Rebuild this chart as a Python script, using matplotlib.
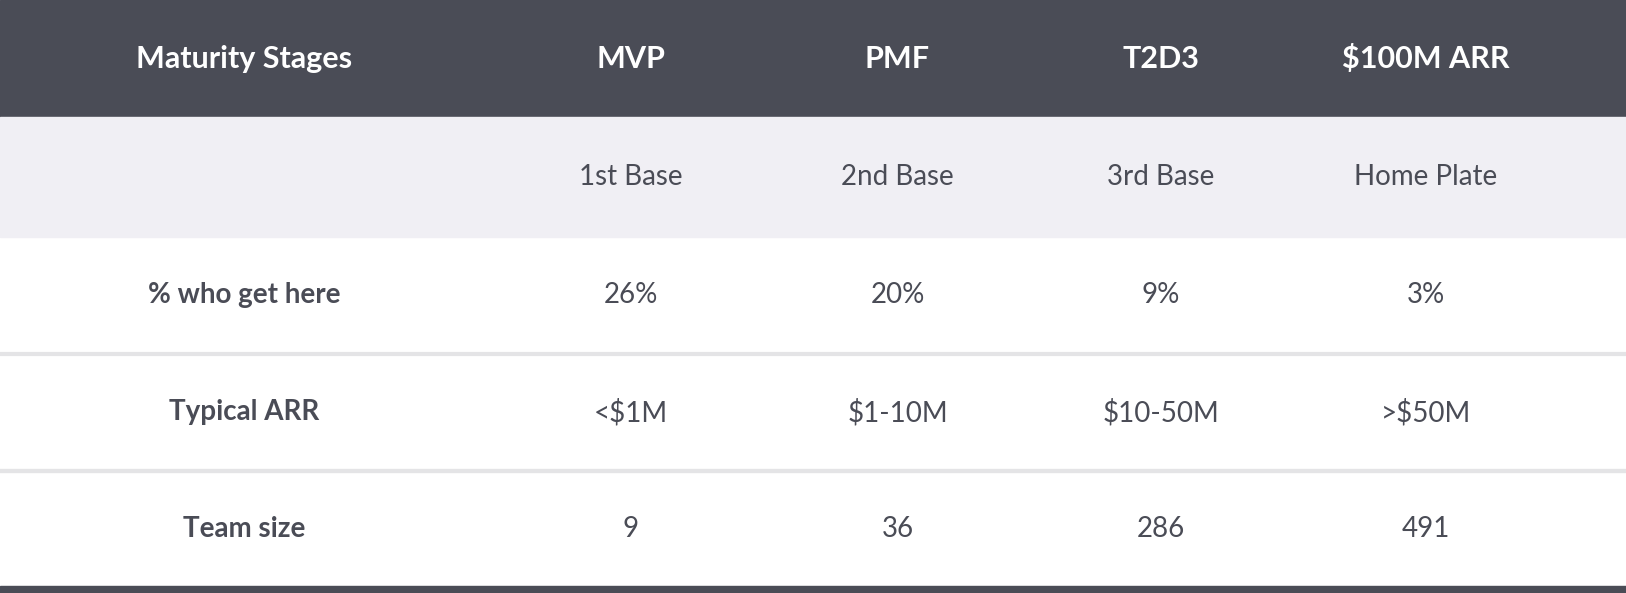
import matplotlib.pyplot as plt
from matplotlib.patches import Rectangle

header = ["Maturity Stages", "MVP", "PMF", "T2D3", "$100M ARR"]
bases = ["", "1st Base", "2nd Base", "3rd Base", "Home Plate"]
row_labels = ["% who get here", "Typical ARR", "Team size"]
pct = ["26%", "20%", "9%", "3%"]
arr = ["<$1M", "$1-10M", "$10-50M", ">$50M"]
team = ["9", "36", "286", "491"]

col_x = [0.150, 0.388, 0.552, 0.714, 0.877]
edges = [0.0, 0.198, 0.399, 0.596, 0.795, 0.988, 1.0]

DARK = "#4a4c56"
TXT = "#4a4c56"

fig = plt.figure(figsize=(16.26, 5.93), dpi=100)
ax = fig.add_axes([0, 0, 1, 1])
ax.set_xlim(0, 1)
ax.set_ylim(1, 0)
ax.axis("off")

ax.add_patch(Rectangle((0, edges[0]), 1, edges[1] - edges[0], color=DARK))
ax.add_patch(Rectangle((0, edges[1]), 1, edges[2] - edges[1], color="#f0eff4"))
ax.add_patch(Rectangle((0, edges[5]), 1, edges[6] - edges[5], color=DARK))
for y in [edges[4], edges[5] - 0.193]:
    pass
for y in [edges[3] + 0.199, edges[4] + 0.0]:
    pass
ax.axhline(edges[3] + 0.0, color="#e6e6e8", lw=3, xmin=0, xmax=1) if False else None
ax.axhline(0.597, color="white", lw=0)
ax.axhline(edges[4] - 0.199 + 0.199, color="#e4e4e6", lw=3)
ax.axhline(edges[4], color="#e4e4e6", lw=3)
ax.axhline(edges[3] + (edges[4] - edges[3]) * 0, color="white", lw=0)
ax.axhline(0.596, color="white", lw=0)
ax.axhline(edges[4] - (edges[4] - edges[3]), color="white", lw=0)
ax.axhline(edges[3] + 0.0 + (edges[4] - edges[3]) * 0, color="white", lw=0)
ax.axhline(0.596 + 0.0, color="white", lw=0)
ax.axhline(0.597, color="#e4e4e6", lw=3)

font = "Lato"
def mid(i):
    return (edges[i] + edges[i + 1]) / 2

for x, t in zip(col_x, header):
    ax.text(x, mid(0), t, color="white", fontsize=22, fontweight="bold",
            ha="center", va="center", family=font)
for x, t in zip(col_x, bases):
    ax.text(x, mid(1), t, color=TXT, fontsize=20, ha="center", va="center", family=font)
for r, vals in enumerate([pct, arr, team]):
    y = mid(2 + r)
    ax.text(col_x[0], y, row_labels[r], color=TXT, fontsize=20, fontweight="bold",
            ha="center", va="center", family=font)
    for x, v in zip(col_x[1:], vals):
        ax.text(x, y, v, color=TXT, fontsize=20, ha="center", va="center", family=font)

fig.savefig("out.png", dpi=100)
